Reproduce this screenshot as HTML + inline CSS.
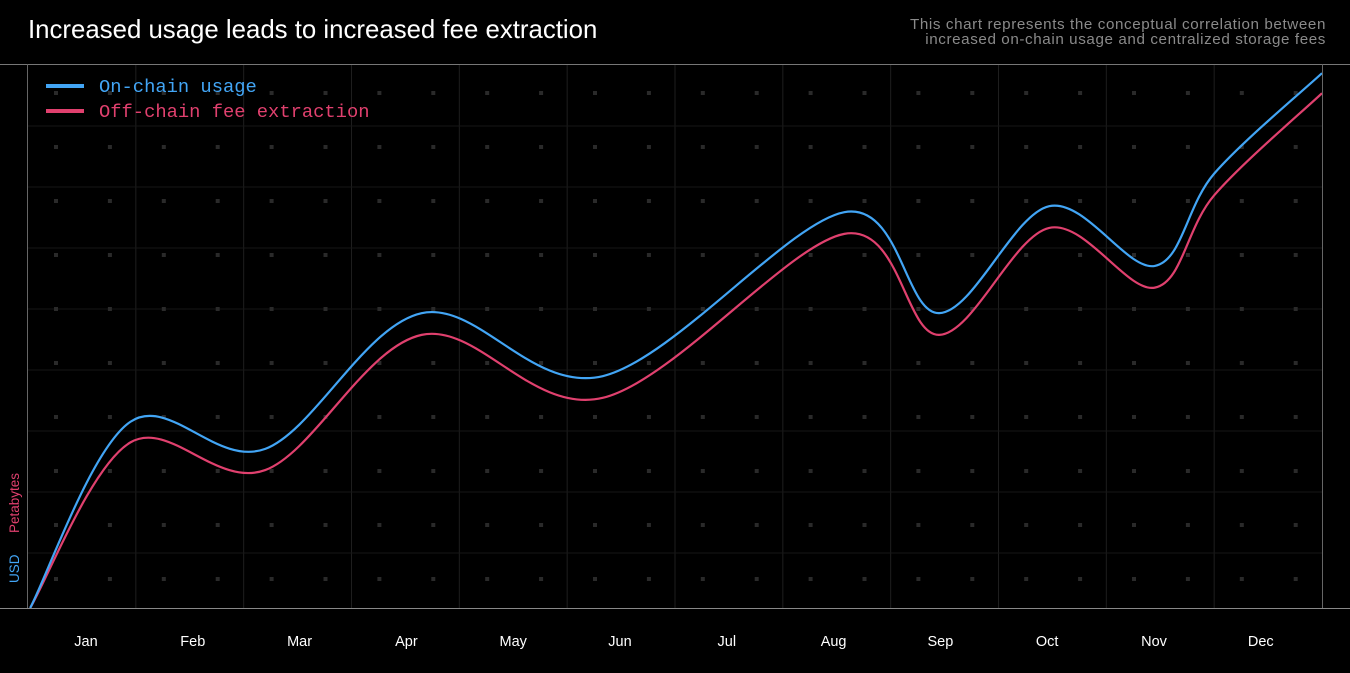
<!DOCTYPE html>
<html><head><meta charset="utf-8">
<style>
html,body{margin:0;padding:0;background:#000;width:1350px;height:673px;overflow:hidden;font-family:"Liberation Sans",sans-serif;}
#title{position:absolute;left:28px;top:16px;color:#fff;font-size:25.8px;}
#sub{position:absolute;right:24px;top:17px;color:#8a8a8a;font-size:15.2px;line-height:15px;text-align:right;letter-spacing:0.6px;}
svg{position:absolute;left:0;top:0;}
</style></head><body>
<div id="title">Increased usage leads to increased fee extraction</div>
<div id="sub">This chart represents the conceptual correlation between<br>increased on-chain usage and centralized storage fees</div>
<svg id="chart" width="1350" height="673"></svg>
<script>
const months=["Jan","Feb","Mar","Apr","May","Jun","Jul","Aug","Sep","Oct","Nov","Dec"];
const pointPos=[0.02,0.95,2.2,3.65,5.33,7.57,8.45,9.47,10.45,11.0,12];
const usageValues=[0,34.3,29.3,54.3,42.7,72.9,54.3,74,63,80,98.5];
const feeValues=[0,30.5,25.4,50.3,38.7,68.9,50.3,70,59,76,94.8];
const NS="http://www.w3.org/2000/svg";
const svg=document.getElementById('chart');
const L=28,R=1322,T=65,B=608;
const xs=m=>L+m*(R-L)/12;
const ys=v=>B-v*(B-T)/100;
function mk(t,a,p){const e=document.createElementNS(NS,t);for(const k in a)e.setAttribute(k,a[k]);(p||svg).appendChild(e);return e;}
for(let i=1;i<12;i++){const l=mk('line',{x1:xs(i),x2:xs(i),y1:T,y2:B,stroke:'#1e1e1e','stroke-width':1});

}
for(let i=1;i<9;i++){const y=T+i*61;const l=mk('line',{x1:L,x2:R,y1:y,y2:y,stroke:'#161616','stroke-width':1});

}
for(let i=0;i<24;i++)for(let j=0;j<10;j++){const r=mk('rect',{x:L+26+i*53.9,y:T+26+j*54,width:4,height:4,fill:'#2a2a2a'});

}
let f=mk('line',{x1:0,x2:1350,y1:64.5,y2:64.5,stroke:'#777'});
f=mk('line',{x1:0,x2:1350,y1:608.5,y2:608.5,stroke:'#888'});
f=mk('line',{x1:27.5,x2:27.5,y1:64,y2:608,stroke:'#666'});
f=mk('line',{x1:1322.5,x2:1322.5,y1:64,y2:608,stroke:'#666'});
months.forEach((m,i)=>{const t=mk('text',{x:86+i*106.8,y:646,fill:'#fff','font-size':14.5,'text-anchor':'middle','font-family':'Liberation Sans, sans-serif'});t.textContent=m;

});
function path(vals){const p=pointPos.map((m,i)=>[xs(m),ys(vals[i])]);let d='M'+p[0][0]+','+p[0][1];
for(let i=0;i<p.length-1;i++){const p0=p[i-1]||p[i],p1=p[i],p2=p[i+1],p3=p[i+2]||p2;
d+=' C'+(p1[0]+(p2[0]-p0[0])/6)+','+(p1[1]+(p2[1]-p0[1])/6)+' '+(p2[0]-(p3[0]-p1[0])/6)+','+(p2[1]-(p3[1]-p1[1])/6)+' '+p2[0]+','+p2[1];}return d;}
const clip=mk('clipPath',{id:'c'});mk('rect',{x:L,y:T,width:R-L,height:B-T},clip);
let pl=mk('path',{d:path(feeValues),fill:'none',stroke:'#e0406e','stroke-width':2.2,'clip-path':'url(#c)'});

pl=mk('path',{d:path(usageValues),fill:'none',stroke:'#42a5f5','stroke-width':2.2,'clip-path':'url(#c)'});

const lg=[['On-chain usage','#42a5f5',86],['Off-chain fee extraction','#e0406e',111]];
lg.forEach(([n,c,y])=>{const g=mk('g',{});
mk('line',{x1:46,x2:84,y1:y,y2:y,stroke:c,'stroke-width':4},g);
const t=mk('text',{x:99,y:y+6,fill:c,'font-size':18.8,'font-family':'Liberation Mono, monospace'},g);t.textContent=n;});
let t=mk('text',{x:0,y:0,fill:'#42a5f5','font-size':13.5,transform:'translate(19,583) rotate(-90)'});t.textContent='USD';

t=mk('text',{x:0,y:0,fill:'#e0406e','font-size':13.5,transform:'translate(19,533) rotate(-90)'});t.textContent='Petabytes';

</script>
</body></html>
